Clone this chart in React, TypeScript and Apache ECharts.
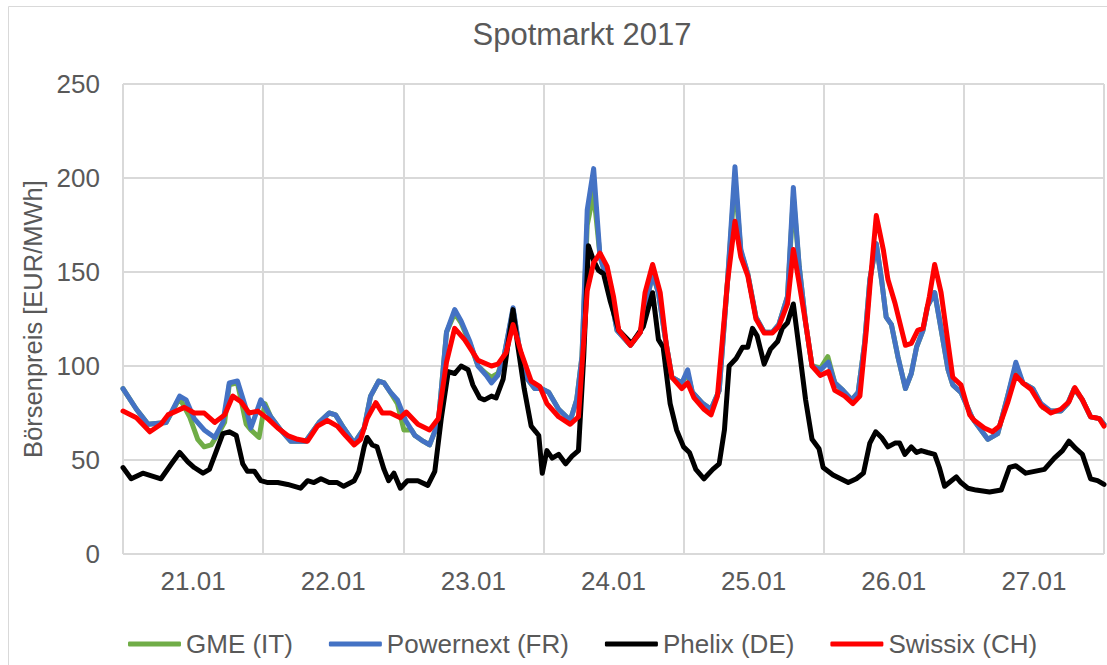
import React, { useEffect, useRef } from "react";
import * as echarts from "echarts";

const chartTitle = "Spotmarkt 2017";
const yAxisTitle = "Börsenpreis [EUR/MWh]";
const dayLabels = ["21.01", "22.01", "23.01", "24.01", "25.01", "26.01", "27.01"];
const seriesNames = ["GME (IT)", "Powernext (FR)", "Phelix (DE)", "Swissix (CH)"];
const seriesColors = ["#70AD47", "#4472C4", "#000000", "#FF0000"];

// [hour since 21.01 00:00, EUR/MWh]
const gme: number[][] = [
  [0, 88], [2.3, 77], [4.3, 69], [7.4, 70], [9.7, 83], [11.4, 73], [12.8, 61], [13.9, 57], [15.1, 58], [16.5, 65], [17.4, 70], [18.2, 90], [19.6, 91], [21.1, 69], [21.9, 66], [23.3, 62], [24.3, 80],
  [25.3, 73], [27.0, 66], [28.7, 60], [31.3, 60], [33.6, 70], [35.3, 75], [36.4, 74], [37.8, 67], [39.6, 59], [41.3, 67], [42.4, 84], [43.8, 92], [44.7, 91], [45.8, 86], [47.0, 80], [48.1, 66], [49.4, 66],
  [50.0, 63], [51.4, 60], [52.5, 58], [54.0, 70], [55.4, 118], [56.8, 128], [57.9, 123], [59.4, 112], [60.8, 100], [62.2, 96], [63.1, 94], [64.2, 96], [65.3, 106], [66.8, 130], [67.9, 109], [69.3, 93], [70.5, 88], [71.6, 88], [72.9, 86],
  [74.6, 77], [76.6, 71], [77.7, 82], [78.6, 105], [79.5, 175], [80.6, 192], [81.7, 158], [82.6, 149], [83.4, 139], [84.6, 119], [86.9, 111], [88.6, 118], [89.7, 135], [90.7, 149], [91.7, 139], [92.8, 116], [94.0, 94], [95.7, 91], [96.7, 96],
  [97.5, 86], [99.3, 80], [100.7, 77], [102.1, 87], [103.5, 144], [104.8, 200], [105.8, 161], [107.0, 149], [108.4, 126], [109.8, 118], [111.2, 118], [112.3, 122], [113.8, 137], [114.8, 190], [115.8, 153], [116.9, 123], [118.0, 100], [119.5, 99], [120.7, 105],
  [121.9, 91], [123.3, 87], [124.8, 82], [125.9, 86], [127.0, 112], [127.9, 146], [129.0, 165], [129.9, 146], [130.7, 126], [131.6, 122], [132.7, 105], [134.0, 88], [135.0, 96], [135.9, 110], [137.0, 119], [137.8, 132], [139.0, 139], [139.8, 125], [141.3, 98], [142.1, 90], [143.5, 86],
  [145.5, 72], [148.1, 61], [149.8, 64], [151.5, 84], [152.9, 100], [154.1, 91], [155.8, 88], [157.5, 78], [158.9, 76], [160.6, 76], [161.8, 80], [162.9, 88], [164.3, 82], [165.7, 73], [167.2, 72], [168, 69],
];

const powernext: number[][] = [
  [0, 88], [2.3, 77], [4.3, 69], [7.4, 70], [9.7, 84], [10.8, 82], [12.2, 72], [13.9, 66], [15.7, 62], [17.1, 70], [18.2, 91], [19.6, 92], [21.1, 77], [21.9, 67], [23.6, 82],
  [25.3, 73], [27.0, 66], [28.7, 60], [31.3, 60], [33.6, 70], [35.3, 75], [36.4, 74], [37.8, 67], [39.6, 59], [41.3, 67], [42.4, 84], [43.8, 92], [44.7, 91], [45.8, 86], [47.0, 82], [48.4, 71],
  [50.0, 63], [51.4, 60], [52.5, 58], [54.0, 70], [55.4, 118], [56.8, 130], [57.9, 124], [59.4, 113], [60.8, 100], [62.2, 95], [63.1, 91], [64.2, 95], [65.3, 106], [66.8, 131], [67.9, 109], [69.3, 93], [70.5, 88], [71.6, 88], [72.9, 86],
  [74.6, 77], [76.6, 71], [77.7, 82], [78.6, 105], [79.5, 183], [80.6, 205], [81.7, 158], [82.6, 149], [83.4, 139], [84.6, 119], [86.9, 111], [88.6, 118], [89.7, 135], [90.7, 149], [91.7, 139], [92.8, 116], [94.0, 94], [95.7, 91], [96.7, 98],
  [97.5, 86], [99.3, 80], [100.7, 77], [102.1, 87], [103.5, 144], [104.8, 206], [105.8, 162], [107.0, 149], [108.4, 126], [109.8, 118], [111.2, 118], [112.3, 122], [113.8, 137], [114.8, 195], [115.8, 153], [116.9, 123], [118.0, 100], [119.5, 98], [120.8, 102],
  [121.9, 91], [123.3, 87], [124.8, 82], [125.9, 86], [127.0, 112], [127.9, 146], [129.0, 165], [129.9, 146], [130.7, 126], [131.6, 122], [132.7, 105], [134.0, 88], [135.0, 96], [135.9, 110], [137.0, 119], [137.8, 132], [139.0, 139], [139.8, 125], [141.3, 98], [142.1, 90], [143.5, 86],
  [145.5, 72], [148.1, 61], [149.8, 64], [151.5, 84], [152.9, 102], [154.1, 91], [155.8, 88], [157.2, 80], [158.9, 76], [160.6, 76], [161.8, 80], [162.9, 88], [164.3, 82], [165.7, 73], [167.2, 72], [168, 69],
];

const phelix: number[][] = [
  [0, 46], [1.4, 40], [3.4, 43], [6.5, 40], [8.3, 48], [9.7, 54], [11.1, 49], [12.2, 46], [13.7, 43], [14.8, 45], [15.9, 54], [17.1, 64], [18.2, 65], [19.4, 63], [20.5, 48], [21.3, 44], [22.5, 44], [23.6, 39], [24.8, 38],
  [26.5, 38], [28.2, 37], [30.4, 35], [31.6, 39], [32.7, 38], [33.9, 40], [35.3, 38], [36.7, 38], [37.8, 36], [39.6, 39], [40.4, 44], [41.3, 57], [41.8, 62], [42.7, 58], [43.5, 57], [44.7, 45], [45.5, 39], [46.4, 43], [47.5, 35], [48.7, 39],
  [49.4, 39], [50.5, 39], [52.2, 36.5], [53.4, 44], [54.5, 72], [55.7, 97], [56.8, 96], [57.9, 100], [59.1, 98], [59.9, 90], [61.1, 83], [61.9, 82], [63.1, 84], [63.9, 83], [65.1, 93], [65.9, 111], [66.8, 130], [67.6, 111], [68.7, 88], [69.9, 68], [70.7, 65], [71.2, 63], [71.8, 43], [72.6, 55],
  [73.5, 51], [74.6, 53], [75.8, 48], [76.9, 52], [78.0, 55], [78.9, 105], [79.7, 164], [80.6, 156], [81.4, 151], [82.3, 149], [83.4, 135], [84.9, 119], [87.1, 112], [89.1, 121], [90.7, 139], [91.7, 114], [92.5, 110], [93.7, 80], [94.8, 66], [96.0, 57],
  [97.0, 54], [98.1, 45], [99.5, 40], [101.0, 45], [102.1, 48], [103.0, 66], [103.8, 100], [105.0, 104], [106.1, 110], [107.0, 110], [107.8, 120], [108.6, 116], [109.8, 101], [110.9, 109], [112.1, 113], [112.9, 120], [113.8, 123], [114.8, 133], [115.8, 109], [116.9, 82], [118.0, 61], [119.2, 56], [119.9, 46],
  [121.6, 42], [124.2, 38], [125.6, 40], [126.8, 43], [127.9, 59], [128.9, 65], [129.9, 62], [131.0, 57], [132.2, 59], [133.0, 59], [133.9, 53], [135.0, 57], [135.9, 54], [136.7, 55], [137.8, 54], [139.0, 53], [139.8, 46], [140.7, 36], [141.5, 38], [142.7, 41], [143.5, 38], [144.7, 35],
  [146.1, 34], [148.4, 33], [150.4, 34], [151.8, 46], [152.9, 47], [154.6, 43], [157.8, 45], [159.5, 51], [160.9, 55], [162.0, 60], [163.2, 56], [164.3, 53], [165.7, 40], [166.9, 39], [168, 37],
];

const swissix: number[][] = [
  [0, 76], [2.3, 72.5], [4.6, 65], [6.5, 69], [7.7, 74], [10.5, 78], [12.2, 75], [13.9, 75], [15.7, 70], [17.4, 74], [18.8, 84], [20.2, 81], [21.6, 75], [23.1, 76], [24.8, 72],
  [26.5, 67], [28.2, 63], [29.9, 61], [31.6, 60], [33.3, 68], [35.0, 71], [36.7, 68], [38.1, 63], [39.6, 58], [40.7, 61], [41.8, 72], [43.3, 80.5], [44.4, 75], [45.8, 75], [47.5, 72.5], [48.5, 75.5],
  [50.5, 69], [52.5, 66], [54.0, 72], [55.4, 102], [56.8, 120], [58.5, 114], [60.8, 103], [63.1, 100], [64.2, 101], [65.6, 107], [66.8, 122], [68.2, 107], [69.9, 92], [71.4, 89], [72.6, 80],
  [74.6, 73], [76.6, 69], [78.0, 73], [79.5, 140], [80.6, 155], [81.7, 160], [82.9, 153], [84.0, 137], [84.9, 119], [86.9, 111], [88.6, 118], [89.4, 139], [90.7, 154], [92.0, 139], [93.1, 110], [94.0, 94], [95.7, 88], [96.7, 91],
  [97.8, 83], [99.5, 77], [100.7, 74], [101.8, 84], [103.5, 144], [104.8, 177], [105.8, 158], [107.0, 148], [108.4, 125], [109.8, 117.5], [111.2, 117.5], [112.3, 121], [113.8, 133], [114.8, 162], [115.8, 144], [116.9, 123], [118.0, 100], [119.4, 95], [120.8, 97],
  [121.9, 87], [123.6, 84], [125.0, 80], [126.2, 84], [127.3, 119], [127.9, 142], [129.0, 180], [130.2, 162], [131.0, 146], [132.2, 133.5], [134.0, 111], [135.0, 112], [136.1, 119], [137.0, 120], [138.1, 137], [139.0, 154], [140.1, 139], [141.3, 112], [142.1, 94], [143.5, 90], [145.0, 74], [145.8, 71],
  [147.5, 67], [148.9, 65], [150.1, 68], [151.5, 80.5], [152.9, 95], [154.1, 91], [155.5, 87.6], [157.2, 79], [158.9, 75], [160.6, 77], [162.0, 81], [163.0, 88.5], [164.3, 82], [165.7, 73], [167.2, 72], [168, 68],
];

const seriesData = [gme, powernext, phelix, swissix];

const FONT = "'Liberation Sans', Arial, sans-serif";
const TEXT = "#595959";
const GRID = "#d9d9d9";

export default function App() {
  const ref = useRef<HTMLDivElement>(null);
  useEffect(() => {
    if (!ref.current) return;
    const chart = echarts.init(ref.current, undefined, { renderer: "svg" });
    chart.setOption({
      animation: false,
      backgroundColor: "#ffffff",
      textStyle: { fontFamily: FONT },
      title: {
        text: chartTitle,
        left: 577,
        top: 14,
        textAlign: "center",
        textStyle: { fontFamily: FONT, fontSize: 31, fontWeight: "normal", color: TEXT },
      },
      graphic: [
        { type: "line", shape: { x1: 8.5, y1: 6.5, x2: 1107, y2: 6.5 }, style: { stroke: GRID, lineWidth: 1 }, silent: true },
        { type: "line", shape: { x1: 8.5, y1: 6.5, x2: 8.5, y2: 665 }, style: { stroke: GRID, lineWidth: 1 }, silent: true },
      ],
      legend: {
        left: 123,
        top: 626,
        icon: "roundRect",
        itemWidth: 53,
        itemHeight: 5,
        itemGap: 36,
        textStyle: { fontFamily: FONT, fontSize: 26, color: TEXT },
        data: seriesNames,
      },
      grid: { left: 123, top: 84, right: 0, bottom: 111, containLabel: false },
      xAxis: {
        type: "value",
        min: 0,
        max: 168,
        interval: 12,
        axisLine: { show: false },
        axisTick: { show: false },
        axisLabel: {
          margin: 14,
          fontSize: 26,
          color: TEXT,
          fontFamily: FONT,
          formatter: (v: number) => (v % 24 === 12 ? dayLabels[(v - 12) / 24] : ""),
        },
        splitLine: { show: true, lineStyle: { color: [GRID, "rgba(0,0,0,0)"], width: 2 } },
      },
      yAxis: {
        type: "value",
        min: 0,
        max: 250,
        interval: 50,
        name: yAxisTitle,
        nameLocation: "middle",
        nameGap: 72,
        nameTextStyle: { fontFamily: FONT, fontSize: 25.5, color: TEXT },
        axisLine: { show: false },
        axisTick: { show: false },
        axisLabel: { margin: 23, fontSize: 26, color: TEXT, fontFamily: FONT },
        splitLine: { show: true, lineStyle: { color: GRID, width: 2 } },
      },
      series: seriesNames.map((name, i) => ({
        name,
        type: "line",
        data: seriesData[i],
        symbol: "none",
        showSymbol: false,
        color: seriesColors[i],
        itemStyle: { color: seriesColors[i] },
        lineStyle: { color: seriesColors[i], width: 5, cap: "round", join: "round" },
        z: 2 + i,
      })),
    });
    return () => chart.dispose();
  }, []);
  return (
    <div
      ref={ref}
      style={{ position: "absolute", left: 0, top: 0, width: 1107, height: 665 }}
    />
  );
}
